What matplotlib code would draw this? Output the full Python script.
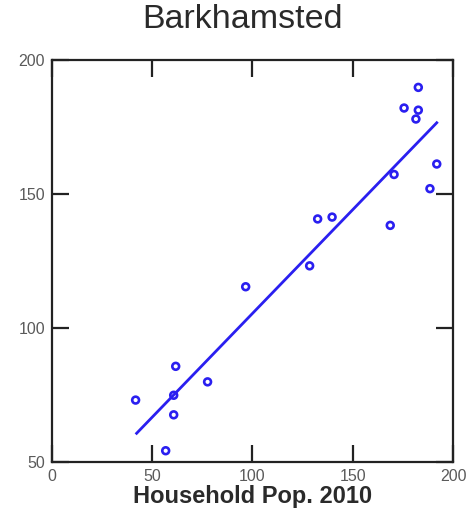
import matplotlib
matplotlib.use("Agg")
from matplotlib import pyplot as plt

plt.rcParams['font.family'] = ['Liberation Sans', 'DejaVu Sans']

# household population 2010 vs. y values
pop_2010 = [182.7, 175.6, 182.7, 181.5, 191.9, 170.6, 188.5, 132.5, 139.7,
            168.7, 128.5, 96.6, 61.7, 77.6, 41.7, 60.7, 60.7, 56.7]
values = [189.8, 182.1, 181.3, 178.0, 161.2, 157.3, 152.0, 140.7, 141.4,
          138.3, 123.2, 115.4, 85.7, 79.9, 73.1, 74.9, 67.6, 54.2]

# fitted line end points
fit_x = [42.2, 191.9]
fit_y = [60.7, 176.6]

xticks = [0, 50, 100, 150, 200]
yticks = [50, 100, 150, 200]

fig = plt.figure(figsize=(4.74, 5.12), dpi=100)
ax = fig.add_axes([0.1097, 0.0977, 0.846, 0.785])

blue = '#2a1ff0'
ax.plot(fit_x, fit_y, color=blue, linewidth=2)
ax.scatter(pop_2010, values, s=24, facecolors='none', edgecolors=blue, linewidths=1.9, zorder=3)

ax.set_xlim(0, 200)
ax.set_ylim(50, 200)
ax.set_xticks(xticks)
ax.set_yticks(yticks)

for s in ax.spines.values():
    s.set_linewidth(1.6)
    s.set_color('#222222')

ax.tick_params(direction='in', length=12, width=1.6, color='#222222',
               top=True, right=True, labelsize=11.5, labelcolor='#5a5a5a')
ax.tick_params(axis='x', pad=5)
ax.tick_params(axis='y', pad=5)

ax.set_title('Barkhamsted', fontsize=24.5, pad=23, color='#2a2a2a', x=0.474)
ax.set_xlabel('Household Pop. 2010', fontsize=17, fontweight='bold',
              color='#2a2a2a', labelpad=1)

fig.savefig('out.png', dpi=100)
